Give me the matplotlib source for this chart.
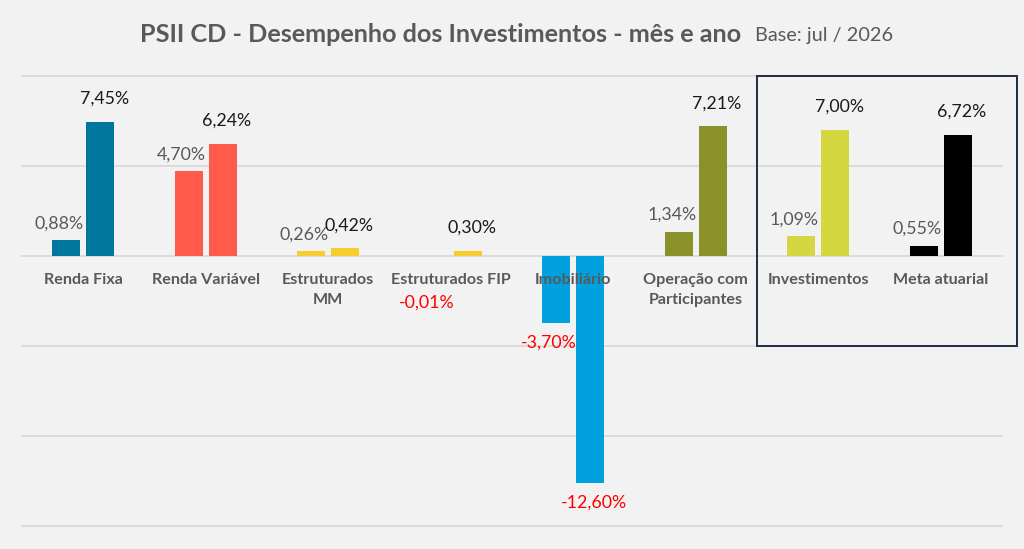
import matplotlib
matplotlib.use("Agg")
import matplotlib.pyplot as plt
from matplotlib.patches import Rectangle

# data (% returns: month and year-to-date)
categories = ["Renda Fixa", "Renda Variável", "Estruturados\nMM", "Estruturados FIP",
              "Imobiliário", "Operação com\nParticipantes", "Investimentos", "Meta atuarial"]
mes = [0.88, 4.70, 0.26, -0.01, -3.70, 1.34, 1.09, 0.55]
ano = [7.45, 6.24, 0.42, 0.30, -12.60, 7.21, 7.00, 6.72]
colors = ["#00769F", "#FF5A4B", "#F6CD2E", "#F6CD2E", "#00A1DE", "#8A912B", "#D4D73F", "#000000"]
yticks = [-15, -10, -5, 0, 5, 10]

BG = "#F2F2F2"
GRID = "#D9D9D9"
TXT = "#595959"
plt.rcParams["font.family"] = ["Lato", "DejaVu Sans"]

W, H = 1024, 549
fig = plt.figure(figsize=(W / 100, H / 100), dpi=100, facecolor=BG)
ax = fig.add_axes([22 / W, (H - 526) / H, (1002 - 22) / W, (526 - 76) / H])
ax.set_facecolor(BG)
ax.set_xlim(-0.5, len(categories) - 0.5)
ax.set_ylim(min(yticks), max(yticks))
for s in ax.spines.values():
    s.set_visible(False)
ax.set_xticks([])
ax.set_yticks([])
for t in yticks:
    ax.axhline(t, color=GRID, linewidth=1.3, zorder=0, clip_on=False)

px = 0.72  # points per pixel
bw, off = 0.228, 0.139
xs = range(len(categories))
ax.bar([x - off for x in xs], mes, width=bw, color=colors, zorder=2)
ax.bar([x + off for x in xs], ano, width=bw, color=colors, zorder=2)

for x, m, a in zip(xs, mes, ano):
    # month label sits up-left of its bar, year label up-right
    for v, xb, dx, dy_up, col in ((m, x - off, -7, 17, "#595959"),
                                  (a, x + off, 4, 23, "#1A1A1A")):
        c = col if v >= 0 else "#FF0000"
        if v >= 0:
            dy = dy_up
        elif abs(v) < 0.5:
            dy = -46
        else:
            dy = -20
        ax.annotate(f"{v:.2f}%".replace(".", ","), (xb, v), xytext=(dx * px, dy * px),
                    textcoords="offset points", ha="center", va="center",
                    fontsize=12.8, color=c, zorder=4)
    ax.annotate(categories[x], (x, 0), xytext=(0, -17 * px), textcoords="offset points",
                ha="center", va="top", fontsize=11.6, fontweight="bold", color=TXT,
                linespacing=1.55, zorder=5)

# highlight box around the totals
ax.add_patch(Rectangle((5.5, -5.0), 2.12, 15.0, fill=False, edgecolor="#1F2A44",
                       linewidth=1.4, clip_on=False, zorder=6))

fig.text(741 / W, 1 - 34 / H, "PSII CD - Desempenho dos Investimentos - mês e ano",
         ha="right", va="center", fontsize=18.2, fontweight="bold", color=TXT)
fig.text(755 / W, 1 - 35 / H, "Base: jul / 2026", ha="left", va="center",
         fontsize=14.3, color=TXT)

fig.savefig("out.png", dpi=100, facecolor=BG)
